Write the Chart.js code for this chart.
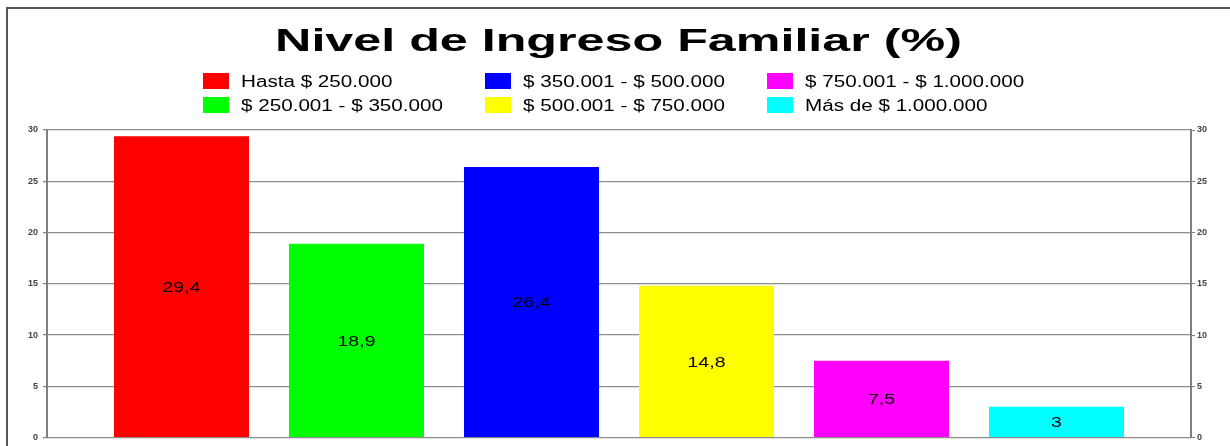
<!DOCTYPE html>
<html>
<head>
<meta charset="utf-8">
<script src="https://cdn.jsdelivr.net/npm/chart.js@4/dist/chart.umd.min.js"></script>
<style>
  body { margin: 0; background: #fff; overflow: hidden; }
  #wrap { position: relative; width: 1230px; height: 446px; overflow: hidden; }
  #frame { position: absolute; left: 6px; top: 7px; right: -4px; bottom: -4px;
           border-top: 2px solid #555; border-left: 2px solid #555; pointer-events: none; }
</style>
</head>
<body>
<div id="wrap">
  <canvas id="ingresoChart" width="1230" height="448"></canvas>
  <div id="frame"></div>
</div>
<script>
'use strict';

var titleText = 'Nivel de Ingreso Familiar (%)';
var categories = ['Hasta $ 250.000', '$ 250.001 - $ 350.000', '$ 350.001 - $ 500.000',
                  '$ 500.001 - $ 750.000', '$ 750.001 - $ 1.000.000', 'Más de $ 1.000.000'];
var percents = [29.4, 18.9, 26.4, 14.8, 7.5, 3];
var barColors = ['#ff0000', '#00ff00', '#0000ff', '#ffff00', '#ff00ff', '#00ffff'];
var yTicks = [0, 5, 10, 15, 20, 25, 30];

var FONT = '"Liberation Sans", Arial, sans-serif';

// one group, one dataset per income band (like the excel original)
var datasets = categories.map(function (name, i) {
    return {
        label: name,
        data: [percents[i]],
        backgroundColor: barColors[i],
        borderWidth: 0,
        categoryPercentage: 1050 / 1144,
        barPercentage: 135 / 175
    };
});

// text in the original is stretched sideways
function wideText(ctx, txt, x, y, sx) {
    ctx.save();
    ctx.translate(x, y);
    ctx.scale(sx, 1);
    ctx.fillText(txt, 0, 0);
    ctx.restore();
}

var headerPlugin = {
    id: 'header',
    afterDraw: function (chart) {
        var ctx = chart.ctx;
        ctx.save();
        ctx.fillStyle = '#000';
        ctx.textBaseline = 'alphabetic';
        ctx.textAlign = 'center';
        ctx.font = 'bold 32px ' + FONT;
        wideText(ctx, titleText, 618.5, 51, 1.57);

        var colX = [203, 485, 767];
        var rowY = [73, 97];
        ctx.font = '16px ' + FONT;
        ctx.textAlign = 'left';
        categories.forEach(function (name, i) {
            var x = colX[Math.floor(i / 2)];
            var y = rowY[i % 2];
            ctx.fillStyle = barColors[i];
            ctx.fillRect(x, y, 26, 16);
            ctx.fillStyle = '#000';
            wideText(ctx, name, x + 38, y + 14, 1.29);
        });
        ctx.restore();
    }
};

var valueLabels = {
    id: 'valueLabels',
    afterDatasetsDraw: function (chart) {
        var ctx = chart.ctx;
        ctx.save();
        ctx.font = '15px ' + FONT;
        ctx.fillStyle = '#000';
        ctx.textAlign = 'center';
        ctx.textBaseline = 'middle';
        chart.data.datasets.forEach(function (ds, i) {
            var bar = chart.getDatasetMeta(i).data[0];
            var txt = String(ds.data[0]).replace('.', ',');
            wideText(ctx, txt, bar.x, (bar.y + bar.base) / 2 + 1, 1.3);
        });
        ctx.restore();
    }
};

var tickFont = { family: FONT, size: 9, weight: 'bold' };

var ctx = document.getElementById('ingresoChart').getContext('2d');
var myChart = new Chart(ctx, {
    type: 'bar',
    data: { labels: [''], datasets: datasets },
    options: {
        responsive: false,
        animation: false,
        layout: { padding: { top: 130, bottom: 7, left: 0, right: 0 } },
        plugins: { legend: { display: false }, title: { display: false }, tooltip: { enabled: false } },
        scales: {
            x: { display: false },
            y: {
                position: 'left',
                min: 0, max: 30,
                afterBuildTicks: function (s) { s.ticks = yTicks.map(function (v) { return { value: v }; }); },
                ticks: { padding: 5, font: tickFont, color: '#444' },
                grid: { color: '#8c8c8c', lineWidth: 1.2, tickLength: 4, tickColor: '#7f7f7f' },
                border: { color: '#7f7f7f', width: 2 },
                afterFit: function (s) { s.width = 47; }
            },
            y2: {
                position: 'right',
                min: 0, max: 30,
                afterBuildTicks: function (s) { s.ticks = yTicks.map(function (v) { return { value: v }; }); },
                ticks: { padding: 2, font: tickFont, color: '#444' },
                grid: { drawOnChartArea: false, tickLength: 4, tickColor: '#7f7f7f' },
                border: { color: '#7f7f7f', width: 2 },
                afterFit: function (s) { s.width = 39; }
            }
        }
    },
    plugins: [headerPlugin, valueLabels]
});
</script>
</body>
</html>
